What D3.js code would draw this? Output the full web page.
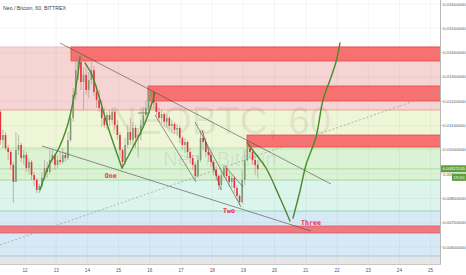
<!doctype html>
<html>
<head>
<meta charset="utf-8">
<script src="https://d3js.org/d3.v7.min.js"></script>
<style>
    body { margin: 0; background: #fff; }
    svg { display: block; font-family: "Liberation Sans", Arial, sans-serif; }
</style>
</head>
<body>
<svg id="chart" width="466" height="275"></svg>
<script>
    // prices in mBTC (0.001 BTC), time in day-of-month
    const dayTicks = [12, 13, 14, 15, 16, 17, 18, 19, 20, 21, 22, 23, 24, 25];
    const priceTicks = [6, 7, 8, 9, 10, 11, 12, 13, 14, 15, 16];

    // 2 hour candles, open = previous close
    const firstCandleDay = 11.21;
    const candleStep = 2 / 24;
    const firstOpen = 11.56;
    const closes = [
        10.40, 10.61, 10.07, 9.91, 9.38, 8.68, 9.99, 10.20, 9.66, 9.79,
        9.25, 9.50, 8.96, 8.76, 8.35, 8.51, 8.84, 9.25, 9.09, 9.58,
        9.79, 9.38, 9.58, 9.50, 9.79, 9.66, 10.40, 11.31, 12.26, 13.28,
        13.61, 12.79, 13.08, 12.46, 12.87, 13.28, 12.38, 12.05, 11.72, 11.31,
        11.02, 11.43, 11.23, 11.56, 11.02, 10.61, 9.99, 9.50, 10.20, 10.73,
        10.40, 10.90, 10.49, 10.61, 11.02, 11.43, 11.72, 12.13, 12.38, 11.93,
        11.56, 11.31, 11.47, 11.15, 11.31, 10.98, 11.06, 10.82, 10.90, 10.49,
        10.20, 10.32, 9.91, 9.66, 9.38, 8.92, 9.58, 10.49, 10.32, 9.91,
        9.79, 9.50, 9.17, 8.92, 8.55, 8.96, 9.25, 8.92, 8.68, 8.84,
        8.43, 8.10, 7.85, 8.76, 9.58, 10.07, 9.91, 9.58, 9.38, 9.21
    ];
    const highs = [
        11.64, 10.82, 10.73, 10.20, 9.99, 9.50, 10.73, 10.61, 10.28, 9.99,
        9.91, 9.66, 9.58, 9.09, 8.84, 8.59, 9.09, 9.58, 9.50, 9.99,
        9.99, 9.87, 9.79, 9.91, 10.07, 9.91, 10.73, 11.64, 12.54, 13.70,
        13.90, 13.78, 13.37, 13.49, 13.20, 13.61, 13.45, 12.67, 12.46, 12.05,
        11.72, 11.56, 11.64, 11.72, 11.64, 11.23, 10.73, 10.07, 10.49, 11.02,
        11.31, 11.15, 11.02, 10.90, 11.23, 11.72, 12.05, 12.46, 12.63, 12.54,
        12.13, 11.72, 11.64, 11.56, 11.47, 11.39, 11.23, 11.15, 11.06, 10.98,
        10.57, 10.49, 10.40, 10.07, 9.79, 9.50, 9.79, 10.82, 10.82, 10.49,
        10.07, 9.91, 9.58, 9.33, 9.00, 9.17, 9.38, 9.33, 9.09, 8.96,
        8.92, 8.55, 8.18, 9.17, 9.99, 10.32, 10.28, 10.07, 9.75, 9.58
    ];
    const lows = [
        10.20, 10.07, 9.99, 9.58, 9.17, 7.81, 8.68, 9.79, 9.50, 9.38,
        9.09, 9.00, 8.76, 8.51, 8.22, 8.22, 8.43, 8.76, 8.84, 9.00,
        9.46, 9.17, 9.25, 9.38, 9.42, 9.50, 9.58, 10.32, 11.15, 12.05,
        12.87, 12.46, 11.64, 12.26, 12.13, 12.67, 12.22, 11.72, 11.56, 10.94,
        10.90, 10.82, 10.98, 11.06, 10.82, 10.40, 9.66, 9.25, 9.38, 10.07,
        10.20, 10.16, 10.07, 9.70, 10.40, 10.90, 11.31, 11.56, 11.84, 11.72,
        11.39, 11.15, 11.06, 10.94, 10.90, 10.82, 10.69, 10.65, 10.57, 10.28,
        9.99, 9.87, 9.66, 9.46, 9.17, 8.76, 8.84, 9.50, 9.99, 9.70,
        9.50, 9.29, 8.96, 8.72, 8.35, 8.35, 8.84, 8.76, 8.47, 8.43,
        8.22, 7.93, 7.73, 7.77, 8.55, 9.50, 9.66, 9.38, 8.96, 8.84
    ];

    // horizontal zones (price edges, top to bottom)
    const zoneEdges = [14.231, 11.638, 10.075, 8.757, 7.482, 5.631, 5.301];
    // supply boxes: [start day, top price, bottom price], run to the right edge
    const supplyBoxes = [[13.474, 14.231, 13.655], [15.942, 12.626, 12.009], [19.115, 10.609, 10.116]];
    const demandStrip = [6.865, 6.577];

    // drawn trendlines: [[day, price], [day, price]]
    const trendLines = [
        [[13.122, 14.396], [21.808, 8.593]],
        [[12.545, 10.157], [21.167, 6.659]],
        [[16.167, 11.433], [17.481, 8.676]],
        [[17.449, 11.145], [18.923, 7.647]],
        [[17.673, 10.815], [18.282, 8.346]],
        [[18.410, 9.334], [18.987, 8.470]],
        [[15.622, 11.515], [16.006, 11.515]]
    ];
    const dottedLine = [[11.199, 6.083], [25.301, 12.379]];

    // green wave sketches
    const waves = [
        [[12.481, 8.346], [12.801, 9.458], [13.058, 9.992], [13.346, 10.939], [13.506, 11.762], [13.667, 12.873], [13.763, 13.819]],
        [[13.923, 13.573], [14.147, 13.079], [14.340, 12.338], [14.660, 10.939], [15.109, 9.252]],
        [[15.109, 9.252], [15.462, 10.116], [15.846, 11.104], [16.167, 12.338]],
        [[19.115, 10.322], [19.244, 10.075], [19.724, 9.252], [20.173, 8.017], [20.494, 7.071]],
        [[20.590, 7.194], [20.814, 8.305], [21.006, 9.375], [21.327, 10.527], [21.551, 12.050], [21.776, 12.873], [21.968, 13.614], [22.096, 14.396]]
    ];

    const noteLabels = ["One", "Two", "Three"];
    const noteDays = [14.56, 18.35, 20.85];
    const notePrices = [8.84, 7.40, 6.91];

    const lastPrice = 9.21535;
    const lastPriceText = "0.00921535";
    const lastTimeText = "19:20";

    const svg = d3.select('#chart');
    const plotW = 440, plotH = 264;
    const x = d3.scaleLinear().domain([11.199, 25.301]).range([0, plotW]);
    const y = d3.scaleLinear().domain([5.301, 16.165]).range([plotH, 0]);
    const fmt = v => (v / 1000).toFixed(8);

    svg.append('defs').append('clipPath').attr('id', 'plotclip')
        .append('rect').attr('width', plotW).attr('height', plotH);

    const plot = svg.append('g').attr('clip-path', 'url(#plotclip)');

    // zones
    const zoneFill = ['#f6d4d4', '#eff5d7', '#dcf2d4', '#dbf5ec', '#d7e9f5', '#e6e6e6'];
    const zoneLine = ['#efbcbc', '#e9a597', '#bfe3a8', '#a3dc9f', '#98d6c6', '#9cc6e4'];
    for (let i = 0; i < zoneEdges.length - 1; i++) {
        plot.append('rect')
            .attr('x', 0).attr('width', plotW)
            .attr('y', y(zoneEdges[i]))
            .attr('height', y(zoneEdges[i + 1]) - y(zoneEdges[i]))
            .attr('fill', zoneFill[i]);
        plot.append('line')
            .attr('x1', 0).attr('x2', plotW)
            .attr('y1', y(zoneEdges[i])).attr('y2', y(zoneEdges[i]))
            .attr('stroke', zoneLine[i]).attr('stroke-width', 1);
    }

    // grid
    plot.append('g').selectAll('line').data(dayTicks).join('line')
        .attr('x1', d => x(d)).attr('x2', d => x(d))
        .attr('y1', 0).attr('y2', plotH)
        .attr('stroke', 'rgba(0,0,0,0.06)').attr('stroke-width', 0.7);
    plot.append('g').selectAll('line').data(priceTicks).join('line')
        .attr('x1', 0).attr('x2', plotW)
        .attr('y1', d => y(d)).attr('y2', d => y(d))
        .attr('stroke', 'rgba(0,0,0,0.06)').attr('stroke-width', 0.7);

    // red boxes
    supplyBoxes.forEach(b => {
        plot.append('rect')
            .attr('x', x(b[0])).attr('width', plotW - x(b[0]) + 2)
            .attr('y', y(b[1])).attr('height', y(b[2]) - y(b[1]))
            .attr('fill', '#f77171').attr('stroke', '#e84848').attr('stroke-width', 0.8);
    });
    plot.append('rect')
        .attr('x', -2).attr('width', plotW + 4)
        .attr('y', y(demandStrip[0])).attr('height', y(demandStrip[1]) - y(demandStrip[0]))
        .attr('fill', '#ec7a80').attr('stroke', '#e05a62').attr('stroke-width', 0.8);

    // last price line
    plot.append('line')
        .attr('x1', 0).attr('x2', plotW)
        .attr('y1', y(lastPrice)).attr('y2', y(lastPrice))
        .attr('stroke', '#9fd38f').attr('stroke-width', 0.8);

    // watermark
    plot.append('text').text('NEOBTC, 60')
        .attr('x', 220).attr('y', 134).attr('text-anchor', 'middle')
        .attr('font-size', 38).attr('fill', 'rgba(0,0,0,0.08)');
    plot.append('text').text('Neo / Bitcoin')
        .attr('x', 220).attr('y', 166).attr('text-anchor', 'middle')
        .attr('font-size', 20).attr('fill', 'rgba(0,0,0,0.08)');

    // dotted line
    plot.append('line')
        .attr('x1', x(dottedLine[0][0])).attr('y1', y(dottedLine[0][1]))
        .attr('x2', x(dottedLine[1][0])).attr('y2', y(dottedLine[1][1]))
        .attr('stroke', '#9a9a9a').attr('stroke-width', 0.7).attr('stroke-dasharray', '2,2');

    // candles
    const candles = closes.map((c, i) => ({
        t: firstCandleDay + i * candleStep,
        o: i == 0 ? firstOpen : closes[i - 1],
        h: highs[i], l: lows[i], c: c
    }));
    const cg = plot.append('g');
    candles.forEach(d => {
        const up = d.c >= d.o;
        const col = up ? '#7f9a72' : '#e2333a';
        const cx = x(d.t);
        cg.append('line')
            .attr('x1', cx).attr('x2', cx)
            .attr('y1', y(d.h)).attr('y2', y(d.l))
            .attr('stroke', up ? '#8c9c86' : '#c9787a').attr('stroke-width', 0.6);
        const top = y(Math.max(d.o, d.c));
        cg.append('rect')
            .attr('x', cx - 0.8).attr('width', 1.6)
            .attr('y', top).attr('height', Math.max(0.8, y(Math.min(d.o, d.c)) - top))
            .attr('fill', col);
    });

    // trendlines
    trendLines.forEach(l => {
        plot.append('line')
            .attr('x1', x(l[0][0])).attr('y1', y(l[0][1]))
            .attr('x2', x(l[1][0])).attr('y2', y(l[1][1]))
            .attr('stroke', '#4a4a4a').attr('stroke-width', 0.6);
    });

    // waves
    const waveLine = d3.line().x(d => x(d[0])).y(d => y(d[1])).curve(d3.curveCatmullRom);
    waves.forEach(w => {
        plot.append('path').attr('d', waveLine(w))
            .attr('fill', 'none').attr('stroke', '#4b8a2a')
            .attr('stroke-width', 1.4).attr('stroke-linecap', 'round');
    });

    // notes
    noteLabels.forEach((t, i) => {
        plot.append('text').text(t)
            .attr('x', x(noteDays[i])).attr('y', y(notePrices[i]))
            .attr('font-family', '"DejaVu Sans Mono", monospace')
            .attr('font-weight', 'bold').attr('font-size', 6.6)
            .attr('fill', '#e8343a');
    });

    // title
    svg.append('text').text('Neo / Bitcoin, 60, BITTREX')
        .attr('x', 3).attr('y', 9.5)
        .attr('font-size', 5.2).attr('fill', '#444');

    // right axis
    svg.append('line').attr('x1', plotW + 0.5).attr('x2', plotW + 0.5)
        .attr('y1', 0).attr('y2', plotH)
        .attr('stroke', '#b8b8b8').attr('stroke-width', 1);
    const ax = svg.append('g');
    priceTicks.forEach(p => {
        ax.append('line').attr('x1', plotW + 1).attr('x2', plotW + 2.5)
            .attr('y1', y(p)).attr('y2', y(p)).attr('stroke', '#999').attr('stroke-width', 0.5);
        ax.append('text').text(fmt(p))
            .attr('x', plotW + 3).attr('y', y(p)).attr('dy', '0.35em')
            .attr('font-size', 4.3).attr('fill', '#555');
    });

    // bottom axis
    svg.append('line').attr('x1', 0).attr('x2', plotW + 1)
        .attr('y1', plotH + 0.5).attr('y2', plotH + 0.5)
        .attr('stroke', '#c8c8c8').attr('stroke-width', 1);
    svg.append('g').selectAll('text').data(dayTicks).join('text')
        .text(d => d)
        .attr('x', d => x(d)).attr('y', plotH + 7.5)
        .attr('text-anchor', 'middle')
        .attr('font-size', 4.6).attr('fill', '#555');

    // last price tags
    const tag = svg.append('g');
    tag.append('rect').attr('x', plotW + 1).attr('y', y(lastPrice) - 3.6)
        .attr('width', 25).attr('height', 7).attr('fill', '#5f9e3d');
    tag.append('text').text(lastPriceText)
        .attr('x', plotW + 2.5).attr('y', y(lastPrice)).attr('dy', '0.35em')
        .attr('font-size', 4.3).attr('fill', '#fff');
    tag.append('rect').attr('x', 452).attr('y', y(lastPrice) + 5)
        .attr('width', 14).attr('height', 7).attr('fill', '#5f9e3d');
    tag.append('text').text(lastTimeText)
        .attr('x', 459).attr('y', y(lastPrice) + 8.5).attr('dy', '0.35em')
        .attr('text-anchor', 'middle')
        .attr('font-size', 4.3).attr('fill', '#fff');
</script>
</body>
</html>
